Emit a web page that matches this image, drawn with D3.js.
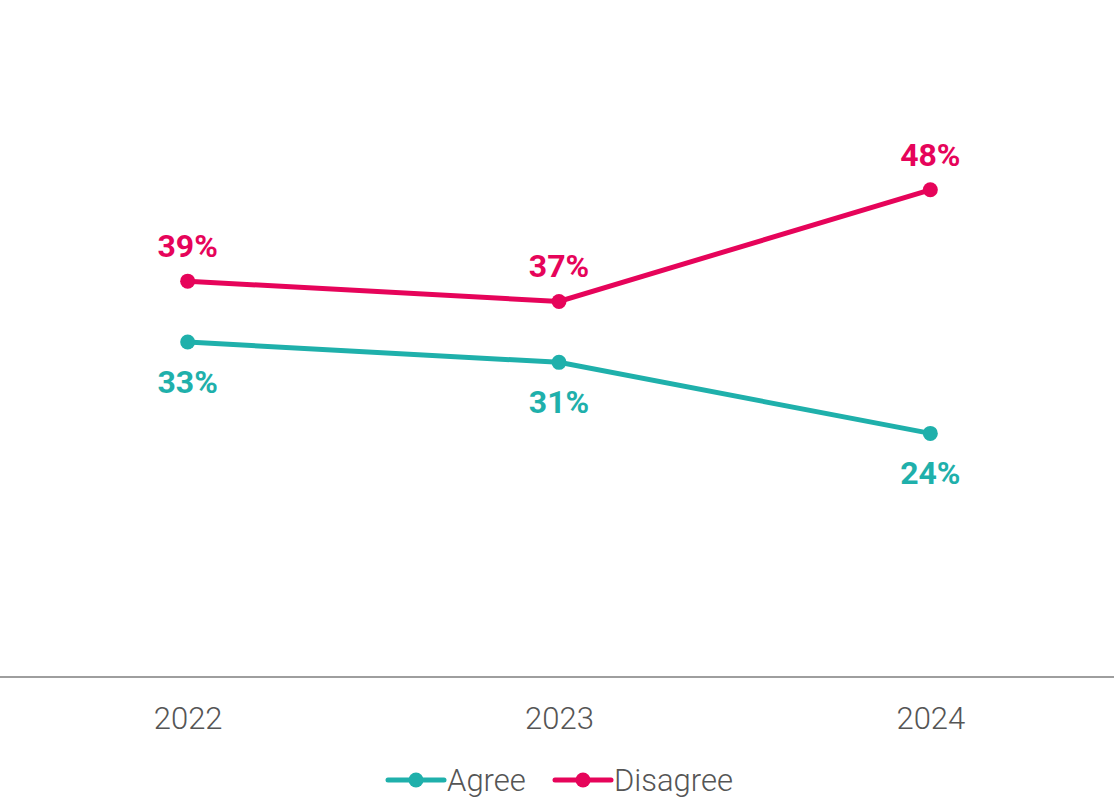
<!DOCTYPE html>
<html>
<head>
<meta charset="utf-8">
<script src="https://cdn.jsdelivr.net/npm/d3@7"></script>
<style>
  body { margin: 0; background: #fff; }
  svg { display: block; font-family: Roboto, sans-serif; }
</style>
</head>
<body>
<svg id="chart" width="1114" height="799"></svg>
<script>
// values
const years = ['2022', '2023', '2024'];
const agree = [33, 31, 24];
const disagree = [39, 37, 48];

const series = [
    { name: 'Agree', values: agree, color: '#1fb0ab', labelDy: 51 },
    { name: 'Disagree', values: disagree, color: '#e6045a', labelDy: -24 }
];

const svg = d3.select('#chart');
const width = 1114;
const axisY = 677;

const x = d3.scalePoint().domain(years).range([2, width + 2]).padding(0.5);
const y = d3.scaleLinear().domain([0, 60]).range([axisY, 68]);

// x axis
const xAxis = svg.append('g')
    .attr('transform', `translate(0,${axisY})`)
    .call(d3.axisBottom(x).tickSize(0).tickPadding(30));
xAxis.select('.domain').attr('stroke', '#9e9e9e').attr('stroke-width', 2).attr('d', `M0,0H${width}`);
xAxis.selectAll('text')
    .attr('fill', '#555')
    .style('font-size', '31px')
    .style('font-weight', 300)
    .style('font-family', 'Roboto, sans-serif');

const line = d3.line().x((d, i) => x(years[i])).y(d => y(d));

series.forEach(s => {
    const g = svg.append('g');
    g.append('path')
        .datum(s.values)
        .attr('fill', 'none')
        .attr('stroke', s.color)
        .attr('stroke-width', 5)
        .attr('d', line);
    g.selectAll('circle').data(s.values).enter().append('circle')
        .attr('cx', (d, i) => x(years[i]))
        .attr('cy', d => y(d))
        .attr('r', 7.5)
        .attr('fill', s.color);
    g.selectAll('text').data(s.values).enter().append('text')
        .attr('x', (d, i) => x(years[i]))
        .attr('y', d => y(d) + s.labelDy)
        .attr('text-anchor', 'middle')
        .attr('fill', s.color)
        .style('font-size', '32px')
        .style('font-weight', 700)
        .text(d => d + '%');
});

// legend
const legend = svg.append('g').attr('transform', 'translate(0,780)');
const legendItems = [
    { name: 'Agree', color: '#1fb0ab', x: 388 },
    { name: 'Disagree', color: '#e6045a', x: 555 }
];
legendItems.forEach(it => {
    const lg = legend.append('g').attr('transform', `translate(${it.x},0)`);
    lg.append('line').attr('x1', 0).attr('x2', 56).attr('y1', 0).attr('y2', 0)
        .attr('stroke', it.color).attr('stroke-width', 5).attr('stroke-linecap', 'round');
    lg.append('circle').attr('cx', 28).attr('cy', 0).attr('r', 7.5).attr('fill', it.color);
    lg.append('text').attr('x', 59).attr('y', 11)
        .attr('fill', '#555')
        .style('font-size', '31px')
        .style('font-weight', 300)
        .text(it.name);
});
</script>
</body>
</html>
